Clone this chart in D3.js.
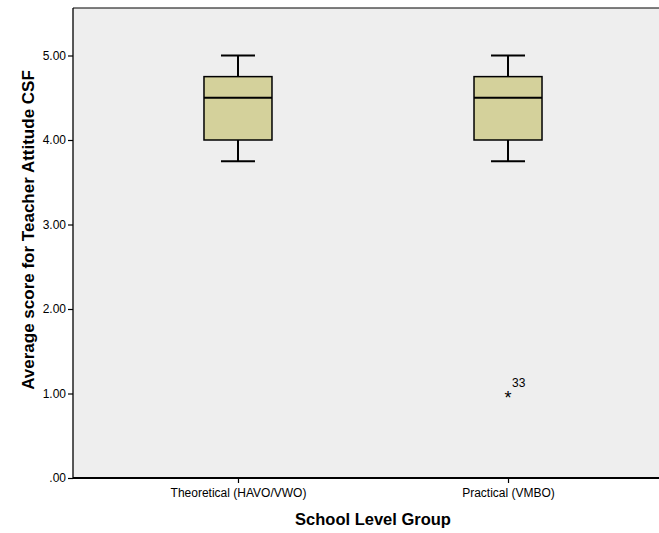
<!DOCTYPE html>
<html>
<head>
<meta charset="utf-8">
<script src="https://cdn.jsdelivr.net/npm/d3@7"></script>
<style>
  html, body { margin: 0; padding: 0; background: #fff; }
  svg { display: block; font-family: "Liberation Sans", Arial, sans-serif; }
</style>
</head>
<body>
<svg id="chart" width="659" height="533"></svg>
<script>
// Box-plot summaries per school level group
const categories = ["Theoretical (HAVO/VWO)", "Practical (VMBO)"];
const whiskerLow = [3.75, 3.75];
const q1 = [4.00, 4.00];
const medians = [4.50, 4.50];
const q3 = [4.75, 4.75];
const whiskerHigh = [5.00, 5.00];
// Extreme values: [category index, value, case label]
const extremes = [[1, 1.00, "33"]];
const yTicks = [0, 1, 2, 3, 4, 5];

const svg = d3.select("#chart");
const plotLeft = 73, plotRight = 673, plotTop = 8, plotBottom = 478;

const x = d3.scalePoint().domain(categories).range([plotLeft, plotRight]).padding(0.611);
const y = d3.scaleLinear().domain([0, 5]).range([plotBottom, 55.5]);

// plot background
svg.append("rect")
  .attr("x", plotLeft).attr("y", plotTop)
  .attr("width", plotRight - plotLeft).attr("height", plotBottom - plotTop)
  .attr("fill", "#eeeeee");

svg.append("line")
  .attr("x1", plotLeft).attr("x2", plotRight)
  .attr("y1", plotTop).attr("y2", plotTop)
  .attr("stroke", "#000").attr("stroke-width", 1.2);

// y axis
const yAxis = svg.append("g")
  .attr("transform", `translate(${plotLeft},0)`)
  .call(d3.axisLeft(y).tickValues(yTicks).tickSize(5).tickPadding(2)
    .tickFormat(d => d === 0 ? ".00" : d3.format(".2f")(d)));
yAxis.select(".domain").attr("d", `M0,${plotTop}V${plotBottom}`).attr("stroke-width", 1.3);
yAxis.selectAll(".tick line").attr("stroke-width", 1.2);
yAxis.selectAll("text").attr("font-size", 12).attr("fill", "#000")
  .attr("font-family", "Liberation Sans, Arial, sans-serif");

// x axis
const xAxis = svg.append("g")
  .attr("transform", `translate(0,${plotBottom})`)
  .call(d3.axisBottom(x).tickSize(5).tickPadding(5));
xAxis.select(".domain").attr("d", `M${plotLeft},0H${plotRight}`).attr("stroke-width", 2);
xAxis.selectAll(".tick line").attr("stroke-width", 1.2);
xAxis.selectAll("text").attr("font-size", 12).attr("fill", "#000")
  .attr("font-family", "Liberation Sans, Arial, sans-serif");

// boxes
const boxW = 68, capW = 34;
categories.forEach((c, i) => {
  const cx = x(c);
  const g = svg.append("g");
  // whisker stems
  g.append("line").attr("x1", cx).attr("x2", cx)
    .attr("y1", y(q3[i])).attr("y2", y(whiskerHigh[i]))
    .attr("stroke", "#000").attr("stroke-width", 2);
  g.append("line").attr("x1", cx).attr("x2", cx)
    .attr("y1", y(q1[i])).attr("y2", y(whiskerLow[i]))
    .attr("stroke", "#000").attr("stroke-width", 2);
  // caps
  g.append("line").attr("x1", cx - capW / 2).attr("x2", cx + capW / 2)
    .attr("y1", y(whiskerHigh[i])).attr("y2", y(whiskerHigh[i]))
    .attr("stroke", "#000").attr("stroke-width", 2);
  g.append("line").attr("x1", cx - capW / 2).attr("x2", cx + capW / 2)
    .attr("y1", y(whiskerLow[i])).attr("y2", y(whiskerLow[i]))
    .attr("stroke", "#000").attr("stroke-width", 2);
  // box
  g.append("rect")
    .attr("x", cx - boxW / 2).attr("y", y(q3[i]))
    .attr("width", boxW).attr("height", y(q1[i]) - y(q3[i]))
    .attr("fill", "#d4d19b").attr("stroke", "#000").attr("stroke-width", 1.5);
  // median
  g.append("line").attr("x1", cx - boxW / 2).attr("x2", cx + boxW / 2)
    .attr("y1", y(medians[i])).attr("y2", y(medians[i]))
    .attr("stroke", "#000").attr("stroke-width", 2.2);
});

// extreme values
extremes.forEach(([ci, v, lab]) => {
  const cx = x(categories[ci]);
  svg.append("text").attr("x", cx).attr("y", y(v) + 10)
    .attr("text-anchor", "middle").attr("font-size", 18).attr("fill", "#000")
    .text("*");
  svg.append("text").attr("x", cx + 4).attr("y", y(v) - 7)
    .attr("font-size", 12).attr("fill", "#000")
    .text(lab);
});

// axis titles
svg.append("text")
  .attr("x", 373).attr("y", 525)
  .attr("text-anchor", "middle").attr("font-weight", "bold").attr("font-size", 16.5)
  .text("School Level Group");
svg.append("text")
  .attr("transform", "translate(34,230) rotate(-90)")
  .attr("text-anchor", "middle").attr("font-weight", "bold").attr("font-size", 17)
  .text("Average score for Teacher Attitude CSF");
</script>
</body>
</html>
